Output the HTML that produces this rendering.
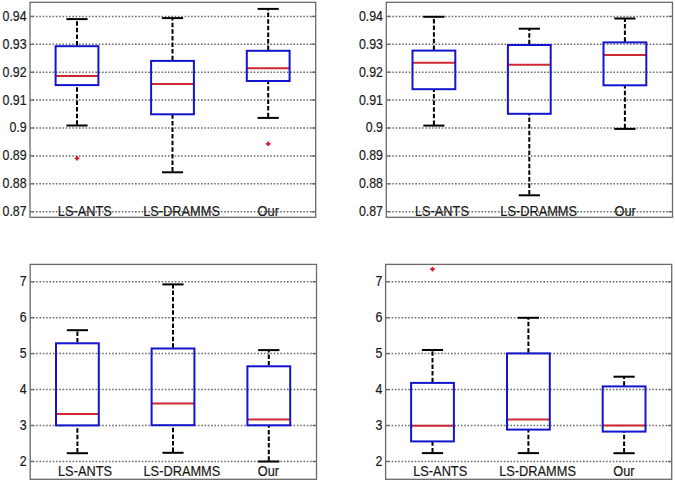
<!DOCTYPE html>
<html><head><meta charset="utf-8"><style>
html,body{margin:0;padding:0;background:#fff;}
svg{display:block;}
</style></head><body>
<svg width="675" height="482" viewBox="0 0 675 482" font-family="'Liberation Sans', sans-serif" font-size="14.0" fill="#1a1a1a">
<rect width="675" height="482" fill="#fff"/>
<line x1="30.00" y1="16.40" x2="315.70" y2="16.40" stroke="#6e6e6e" stroke-width="1.5" stroke-dasharray="1.6 1.70" stroke-dashoffset="0.6"/>
<line x1="30.00" y1="16.40" x2="34.00" y2="16.40" stroke="#6a6a6a" stroke-width="1.3"/>
<line x1="311.70" y1="16.40" x2="315.70" y2="16.40" stroke="#6a6a6a" stroke-width="1.3"/>
<line x1="30.00" y1="44.30" x2="315.70" y2="44.30" stroke="#6e6e6e" stroke-width="1.5" stroke-dasharray="1.6 1.70" stroke-dashoffset="0.6"/>
<line x1="30.00" y1="44.30" x2="34.00" y2="44.30" stroke="#6a6a6a" stroke-width="1.3"/>
<line x1="311.70" y1="44.30" x2="315.70" y2="44.30" stroke="#6a6a6a" stroke-width="1.3"/>
<line x1="30.00" y1="72.20" x2="315.70" y2="72.20" stroke="#6e6e6e" stroke-width="1.5" stroke-dasharray="1.6 1.70" stroke-dashoffset="0.6"/>
<line x1="30.00" y1="72.20" x2="34.00" y2="72.20" stroke="#6a6a6a" stroke-width="1.3"/>
<line x1="311.70" y1="72.20" x2="315.70" y2="72.20" stroke="#6a6a6a" stroke-width="1.3"/>
<line x1="30.00" y1="100.10" x2="315.70" y2="100.10" stroke="#6e6e6e" stroke-width="1.5" stroke-dasharray="1.6 1.70" stroke-dashoffset="0.6"/>
<line x1="30.00" y1="100.10" x2="34.00" y2="100.10" stroke="#6a6a6a" stroke-width="1.3"/>
<line x1="311.70" y1="100.10" x2="315.70" y2="100.10" stroke="#6a6a6a" stroke-width="1.3"/>
<line x1="30.00" y1="128.00" x2="315.70" y2="128.00" stroke="#6e6e6e" stroke-width="1.5" stroke-dasharray="1.6 1.70" stroke-dashoffset="0.6"/>
<line x1="30.00" y1="128.00" x2="34.00" y2="128.00" stroke="#6a6a6a" stroke-width="1.3"/>
<line x1="311.70" y1="128.00" x2="315.70" y2="128.00" stroke="#6a6a6a" stroke-width="1.3"/>
<line x1="30.00" y1="155.90" x2="315.70" y2="155.90" stroke="#6e6e6e" stroke-width="1.5" stroke-dasharray="1.6 1.70" stroke-dashoffset="0.6"/>
<line x1="30.00" y1="155.90" x2="34.00" y2="155.90" stroke="#6a6a6a" stroke-width="1.3"/>
<line x1="311.70" y1="155.90" x2="315.70" y2="155.90" stroke="#6a6a6a" stroke-width="1.3"/>
<line x1="30.00" y1="183.80" x2="315.70" y2="183.80" stroke="#6e6e6e" stroke-width="1.5" stroke-dasharray="1.6 1.70" stroke-dashoffset="0.6"/>
<line x1="30.00" y1="183.80" x2="34.00" y2="183.80" stroke="#6a6a6a" stroke-width="1.3"/>
<line x1="311.70" y1="183.80" x2="315.70" y2="183.80" stroke="#6a6a6a" stroke-width="1.3"/>
<line x1="30.00" y1="211.70" x2="315.70" y2="211.70" stroke="#6e6e6e" stroke-width="1.5" stroke-dasharray="1.6 1.70" stroke-dashoffset="0.6"/>
<line x1="30.00" y1="211.70" x2="34.00" y2="211.70" stroke="#6a6a6a" stroke-width="1.3"/>
<line x1="311.70" y1="211.70" x2="315.70" y2="211.70" stroke="#6a6a6a" stroke-width="1.3"/>
<text transform="translate(26.60,20.80) scale(0.885,1)" text-anchor="end" stroke="#1a1a1a" stroke-width="0.2">0.94</text>
<text transform="translate(26.60,48.70) scale(0.885,1)" text-anchor="end" stroke="#1a1a1a" stroke-width="0.2">0.93</text>
<text transform="translate(26.60,76.60) scale(0.885,1)" text-anchor="end" stroke="#1a1a1a" stroke-width="0.2">0.92</text>
<text transform="translate(26.60,104.50) scale(0.885,1)" text-anchor="end" stroke="#1a1a1a" stroke-width="0.2">0.91</text>
<text transform="translate(26.60,132.40) scale(0.885,1)" text-anchor="end" stroke="#1a1a1a" stroke-width="0.2">0.9</text>
<text transform="translate(26.60,160.30) scale(0.885,1)" text-anchor="end" stroke="#1a1a1a" stroke-width="0.2">0.89</text>
<text transform="translate(26.60,188.20) scale(0.885,1)" text-anchor="end" stroke="#1a1a1a" stroke-width="0.2">0.88</text>
<text transform="translate(26.60,216.10) scale(0.885,1)" text-anchor="end" stroke="#1a1a1a" stroke-width="0.2">0.87</text>
<text transform="translate(57.80,215.60) scale(0.914,1)" stroke="#1a1a1a" stroke-width="0.2">LS-ANTS</text>
<text transform="translate(143.20,215.60) scale(0.914,1)" stroke="#1a1a1a" stroke-width="0.2">LS-DRAMMS</text>
<text transform="translate(257.60,215.60) scale(0.914,1)" stroke="#1a1a1a" stroke-width="0.2">Our</text>
<line x1="77.00" y1="46.20" x2="77.00" y2="19.10" stroke="#000" stroke-width="2" stroke-dasharray="4.5 2.10" stroke-dashoffset="-0.7"/>
<line x1="77.00" y1="125.50" x2="77.00" y2="85.10" stroke="#000" stroke-width="2" stroke-dasharray="4.5 2.10" stroke-dashoffset="-0.7"/>
<line x1="66.40" y1="19.10" x2="87.60" y2="19.10" stroke="#000" stroke-width="2"/>
<line x1="66.40" y1="125.50" x2="87.60" y2="125.50" stroke="#000" stroke-width="2"/>
<line x1="55.60" y1="76.00" x2="98.40" y2="76.00" stroke="#cf2832" stroke-width="2"/>
<rect x="55.60" y="46.20" width="42.80" height="38.90" fill="none" stroke="#1414cc" stroke-width="2"/>
<path d="M74.70 158.30H79.30M77.00 156.00V160.60" stroke="#e01428" stroke-width="1.8"/>
<line x1="172.50" y1="60.90" x2="172.50" y2="18.10" stroke="#000" stroke-width="2" stroke-dasharray="4.5 2.10" stroke-dashoffset="-0.7"/>
<line x1="172.50" y1="172.30" x2="172.50" y2="114.30" stroke="#000" stroke-width="2" stroke-dasharray="4.5 2.10" stroke-dashoffset="-0.7"/>
<line x1="161.90" y1="18.10" x2="183.10" y2="18.10" stroke="#000" stroke-width="2"/>
<line x1="161.90" y1="172.30" x2="183.10" y2="172.30" stroke="#000" stroke-width="2"/>
<line x1="151.10" y1="84.00" x2="193.90" y2="84.00" stroke="#cf2832" stroke-width="2"/>
<rect x="151.10" y="60.90" width="42.80" height="53.40" fill="none" stroke="#1414cc" stroke-width="2"/>
<line x1="268.20" y1="50.80" x2="268.20" y2="8.90" stroke="#000" stroke-width="2" stroke-dasharray="4.5 2.10" stroke-dashoffset="-0.7"/>
<line x1="268.20" y1="117.90" x2="268.20" y2="81.00" stroke="#000" stroke-width="2" stroke-dasharray="4.5 2.10" stroke-dashoffset="-0.7"/>
<line x1="257.60" y1="8.90" x2="278.80" y2="8.90" stroke="#000" stroke-width="2"/>
<line x1="257.60" y1="117.90" x2="278.80" y2="117.90" stroke="#000" stroke-width="2"/>
<line x1="246.80" y1="68.20" x2="289.60" y2="68.20" stroke="#cf2832" stroke-width="2"/>
<rect x="246.80" y="50.80" width="42.80" height="30.20" fill="none" stroke="#1414cc" stroke-width="2"/>
<path d="M265.90 143.80H270.50M268.20 141.50V146.10" stroke="#e01428" stroke-width="1.8"/>
<rect x="30.00" y="2.30" width="285.70" height="215.00" fill="none" stroke="#6a6a6a" stroke-width="1.3"/>
<line x1="386.30" y1="16.40" x2="672.50" y2="16.40" stroke="#6e6e6e" stroke-width="1.5" stroke-dasharray="1.6 1.70" stroke-dashoffset="0.6"/>
<line x1="386.30" y1="16.40" x2="390.30" y2="16.40" stroke="#6a6a6a" stroke-width="1.3"/>
<line x1="668.50" y1="16.40" x2="672.50" y2="16.40" stroke="#6a6a6a" stroke-width="1.3"/>
<line x1="386.30" y1="44.30" x2="672.50" y2="44.30" stroke="#6e6e6e" stroke-width="1.5" stroke-dasharray="1.6 1.70" stroke-dashoffset="0.6"/>
<line x1="386.30" y1="44.30" x2="390.30" y2="44.30" stroke="#6a6a6a" stroke-width="1.3"/>
<line x1="668.50" y1="44.30" x2="672.50" y2="44.30" stroke="#6a6a6a" stroke-width="1.3"/>
<line x1="386.30" y1="72.20" x2="672.50" y2="72.20" stroke="#6e6e6e" stroke-width="1.5" stroke-dasharray="1.6 1.70" stroke-dashoffset="0.6"/>
<line x1="386.30" y1="72.20" x2="390.30" y2="72.20" stroke="#6a6a6a" stroke-width="1.3"/>
<line x1="668.50" y1="72.20" x2="672.50" y2="72.20" stroke="#6a6a6a" stroke-width="1.3"/>
<line x1="386.30" y1="100.10" x2="672.50" y2="100.10" stroke="#6e6e6e" stroke-width="1.5" stroke-dasharray="1.6 1.70" stroke-dashoffset="0.6"/>
<line x1="386.30" y1="100.10" x2="390.30" y2="100.10" stroke="#6a6a6a" stroke-width="1.3"/>
<line x1="668.50" y1="100.10" x2="672.50" y2="100.10" stroke="#6a6a6a" stroke-width="1.3"/>
<line x1="386.30" y1="128.00" x2="672.50" y2="128.00" stroke="#6e6e6e" stroke-width="1.5" stroke-dasharray="1.6 1.70" stroke-dashoffset="0.6"/>
<line x1="386.30" y1="128.00" x2="390.30" y2="128.00" stroke="#6a6a6a" stroke-width="1.3"/>
<line x1="668.50" y1="128.00" x2="672.50" y2="128.00" stroke="#6a6a6a" stroke-width="1.3"/>
<line x1="386.30" y1="155.90" x2="672.50" y2="155.90" stroke="#6e6e6e" stroke-width="1.5" stroke-dasharray="1.6 1.70" stroke-dashoffset="0.6"/>
<line x1="386.30" y1="155.90" x2="390.30" y2="155.90" stroke="#6a6a6a" stroke-width="1.3"/>
<line x1="668.50" y1="155.90" x2="672.50" y2="155.90" stroke="#6a6a6a" stroke-width="1.3"/>
<line x1="386.30" y1="183.80" x2="672.50" y2="183.80" stroke="#6e6e6e" stroke-width="1.5" stroke-dasharray="1.6 1.70" stroke-dashoffset="0.6"/>
<line x1="386.30" y1="183.80" x2="390.30" y2="183.80" stroke="#6a6a6a" stroke-width="1.3"/>
<line x1="668.50" y1="183.80" x2="672.50" y2="183.80" stroke="#6a6a6a" stroke-width="1.3"/>
<line x1="386.30" y1="211.70" x2="672.50" y2="211.70" stroke="#6e6e6e" stroke-width="1.5" stroke-dasharray="1.6 1.70" stroke-dashoffset="0.6"/>
<line x1="386.30" y1="211.70" x2="390.30" y2="211.70" stroke="#6a6a6a" stroke-width="1.3"/>
<line x1="668.50" y1="211.70" x2="672.50" y2="211.70" stroke="#6a6a6a" stroke-width="1.3"/>
<text transform="translate(383.00,20.80) scale(0.885,1)" text-anchor="end" stroke="#1a1a1a" stroke-width="0.2">0.94</text>
<text transform="translate(383.00,48.70) scale(0.885,1)" text-anchor="end" stroke="#1a1a1a" stroke-width="0.2">0.93</text>
<text transform="translate(383.00,76.60) scale(0.885,1)" text-anchor="end" stroke="#1a1a1a" stroke-width="0.2">0.92</text>
<text transform="translate(383.00,104.50) scale(0.885,1)" text-anchor="end" stroke="#1a1a1a" stroke-width="0.2">0.91</text>
<text transform="translate(383.00,132.40) scale(0.885,1)" text-anchor="end" stroke="#1a1a1a" stroke-width="0.2">0.9</text>
<text transform="translate(383.00,160.30) scale(0.885,1)" text-anchor="end" stroke="#1a1a1a" stroke-width="0.2">0.89</text>
<text transform="translate(383.00,188.20) scale(0.885,1)" text-anchor="end" stroke="#1a1a1a" stroke-width="0.2">0.88</text>
<text transform="translate(383.00,216.10) scale(0.885,1)" text-anchor="end" stroke="#1a1a1a" stroke-width="0.2">0.87</text>
<text transform="translate(414.90,215.60) scale(0.914,1)" stroke="#1a1a1a" stroke-width="0.2">LS-ANTS</text>
<text transform="translate(500.30,215.60) scale(0.914,1)" stroke="#1a1a1a" stroke-width="0.2">LS-DRAMMS</text>
<text transform="translate(614.50,215.60) scale(0.914,1)" stroke="#1a1a1a" stroke-width="0.2">Our</text>
<line x1="433.90" y1="50.60" x2="433.90" y2="16.80" stroke="#000" stroke-width="2" stroke-dasharray="4.5 2.10" stroke-dashoffset="-0.7"/>
<line x1="433.90" y1="125.60" x2="433.90" y2="89.20" stroke="#000" stroke-width="2" stroke-dasharray="4.5 2.10" stroke-dashoffset="-0.7"/>
<line x1="423.30" y1="16.80" x2="444.50" y2="16.80" stroke="#000" stroke-width="2"/>
<line x1="423.30" y1="125.60" x2="444.50" y2="125.60" stroke="#000" stroke-width="2"/>
<line x1="412.50" y1="62.80" x2="455.30" y2="62.80" stroke="#cf2832" stroke-width="2"/>
<rect x="412.50" y="50.60" width="42.80" height="38.60" fill="none" stroke="#1414cc" stroke-width="2"/>
<line x1="529.30" y1="45.00" x2="529.30" y2="28.70" stroke="#000" stroke-width="2" stroke-dasharray="4.5 2.10" stroke-dashoffset="-0.7"/>
<line x1="529.30" y1="195.30" x2="529.30" y2="113.80" stroke="#000" stroke-width="2" stroke-dasharray="4.5 2.10" stroke-dashoffset="-0.7"/>
<line x1="518.70" y1="28.70" x2="539.90" y2="28.70" stroke="#000" stroke-width="2"/>
<line x1="518.70" y1="195.30" x2="539.90" y2="195.30" stroke="#000" stroke-width="2"/>
<line x1="507.90" y1="64.80" x2="550.70" y2="64.80" stroke="#cf2832" stroke-width="2"/>
<rect x="507.90" y="45.00" width="42.80" height="68.80" fill="none" stroke="#1414cc" stroke-width="2"/>
<line x1="624.90" y1="42.40" x2="624.90" y2="18.50" stroke="#000" stroke-width="2" stroke-dasharray="4.5 2.10" stroke-dashoffset="-0.7"/>
<line x1="624.90" y1="128.90" x2="624.90" y2="85.30" stroke="#000" stroke-width="2" stroke-dasharray="4.5 2.10" stroke-dashoffset="-0.7"/>
<line x1="614.30" y1="18.50" x2="635.50" y2="18.50" stroke="#000" stroke-width="2"/>
<line x1="614.30" y1="128.90" x2="635.50" y2="128.90" stroke="#000" stroke-width="2"/>
<line x1="603.50" y1="54.90" x2="646.30" y2="54.90" stroke="#cf2832" stroke-width="2"/>
<rect x="603.50" y="42.40" width="42.80" height="42.90" fill="none" stroke="#1414cc" stroke-width="2"/>
<rect x="386.30" y="2.30" width="286.20" height="215.00" fill="none" stroke="#6a6a6a" stroke-width="1.3"/>
<line x1="30.20" y1="281.80" x2="316.50" y2="281.80" stroke="#6e6e6e" stroke-width="1.5" stroke-dasharray="1.6 1.70" stroke-dashoffset="0.6"/>
<line x1="30.20" y1="281.80" x2="34.20" y2="281.80" stroke="#6a6a6a" stroke-width="1.3"/>
<line x1="312.50" y1="281.80" x2="316.50" y2="281.80" stroke="#6a6a6a" stroke-width="1.3"/>
<line x1="30.20" y1="317.70" x2="316.50" y2="317.70" stroke="#6e6e6e" stroke-width="1.5" stroke-dasharray="1.6 1.70" stroke-dashoffset="0.6"/>
<line x1="30.20" y1="317.70" x2="34.20" y2="317.70" stroke="#6a6a6a" stroke-width="1.3"/>
<line x1="312.50" y1="317.70" x2="316.50" y2="317.70" stroke="#6a6a6a" stroke-width="1.3"/>
<line x1="30.20" y1="353.60" x2="316.50" y2="353.60" stroke="#6e6e6e" stroke-width="1.5" stroke-dasharray="1.6 1.70" stroke-dashoffset="0.6"/>
<line x1="30.20" y1="353.60" x2="34.20" y2="353.60" stroke="#6a6a6a" stroke-width="1.3"/>
<line x1="312.50" y1="353.60" x2="316.50" y2="353.60" stroke="#6a6a6a" stroke-width="1.3"/>
<line x1="30.20" y1="389.60" x2="316.50" y2="389.60" stroke="#6e6e6e" stroke-width="1.5" stroke-dasharray="1.6 1.70" stroke-dashoffset="0.6"/>
<line x1="30.20" y1="389.60" x2="34.20" y2="389.60" stroke="#6a6a6a" stroke-width="1.3"/>
<line x1="312.50" y1="389.60" x2="316.50" y2="389.60" stroke="#6a6a6a" stroke-width="1.3"/>
<line x1="30.20" y1="425.50" x2="316.50" y2="425.50" stroke="#6e6e6e" stroke-width="1.5" stroke-dasharray="1.6 1.70" stroke-dashoffset="0.6"/>
<line x1="30.20" y1="425.50" x2="34.20" y2="425.50" stroke="#6a6a6a" stroke-width="1.3"/>
<line x1="312.50" y1="425.50" x2="316.50" y2="425.50" stroke="#6a6a6a" stroke-width="1.3"/>
<line x1="30.20" y1="461.50" x2="316.50" y2="461.50" stroke="#6e6e6e" stroke-width="1.5" stroke-dasharray="1.6 1.70" stroke-dashoffset="0.6"/>
<line x1="30.20" y1="461.50" x2="34.20" y2="461.50" stroke="#6a6a6a" stroke-width="1.3"/>
<line x1="312.50" y1="461.50" x2="316.50" y2="461.50" stroke="#6a6a6a" stroke-width="1.3"/>
<text transform="translate(26.60,286.20) scale(0.885,1)" text-anchor="end" stroke="#1a1a1a" stroke-width="0.2">7</text>
<text transform="translate(26.60,322.10) scale(0.885,1)" text-anchor="end" stroke="#1a1a1a" stroke-width="0.2">6</text>
<text transform="translate(26.60,358.00) scale(0.885,1)" text-anchor="end" stroke="#1a1a1a" stroke-width="0.2">5</text>
<text transform="translate(26.60,394.00) scale(0.885,1)" text-anchor="end" stroke="#1a1a1a" stroke-width="0.2">4</text>
<text transform="translate(26.60,429.90) scale(0.885,1)" text-anchor="end" stroke="#1a1a1a" stroke-width="0.2">3</text>
<text transform="translate(26.60,465.90) scale(0.885,1)" text-anchor="end" stroke="#1a1a1a" stroke-width="0.2">2</text>
<text transform="translate(58.00,476.00) scale(0.914,1)" stroke="#1a1a1a" stroke-width="0.2">LS-ANTS</text>
<text transform="translate(143.50,476.00) scale(0.914,1)" stroke="#1a1a1a" stroke-width="0.2">LS-DRAMMS</text>
<text transform="translate(257.80,476.00) scale(0.914,1)" stroke="#1a1a1a" stroke-width="0.2">Our</text>
<line x1="77.40" y1="343.30" x2="77.40" y2="330.20" stroke="#000" stroke-width="2" stroke-dasharray="4.5 2.10" stroke-dashoffset="-0.7"/>
<line x1="77.40" y1="453.20" x2="77.40" y2="425.40" stroke="#000" stroke-width="2" stroke-dasharray="4.5 2.10" stroke-dashoffset="-0.7"/>
<line x1="66.80" y1="330.20" x2="88.00" y2="330.20" stroke="#000" stroke-width="2"/>
<line x1="66.80" y1="453.20" x2="88.00" y2="453.20" stroke="#000" stroke-width="2"/>
<line x1="56.00" y1="414.10" x2="98.80" y2="414.10" stroke="#cf2832" stroke-width="2"/>
<rect x="56.00" y="343.30" width="42.80" height="82.10" fill="none" stroke="#1414cc" stroke-width="2"/>
<line x1="173.00" y1="348.50" x2="173.00" y2="284.40" stroke="#000" stroke-width="2" stroke-dasharray="4.5 2.10" stroke-dashoffset="-0.7"/>
<line x1="173.00" y1="452.80" x2="173.00" y2="425.20" stroke="#000" stroke-width="2" stroke-dasharray="4.5 2.10" stroke-dashoffset="-0.7"/>
<line x1="162.40" y1="284.40" x2="183.60" y2="284.40" stroke="#000" stroke-width="2"/>
<line x1="162.40" y1="452.80" x2="183.60" y2="452.80" stroke="#000" stroke-width="2"/>
<line x1="151.60" y1="403.40" x2="194.40" y2="403.40" stroke="#cf2832" stroke-width="2"/>
<rect x="151.60" y="348.50" width="42.80" height="76.70" fill="none" stroke="#1414cc" stroke-width="2"/>
<line x1="268.80" y1="366.30" x2="268.80" y2="350.10" stroke="#000" stroke-width="2" stroke-dasharray="4.5 2.10" stroke-dashoffset="-0.7"/>
<line x1="268.80" y1="461.50" x2="268.80" y2="425.30" stroke="#000" stroke-width="2" stroke-dasharray="4.5 2.10" stroke-dashoffset="-0.7"/>
<line x1="258.20" y1="350.10" x2="279.40" y2="350.10" stroke="#000" stroke-width="2"/>
<line x1="258.20" y1="461.50" x2="279.40" y2="461.50" stroke="#000" stroke-width="2"/>
<line x1="247.40" y1="419.40" x2="290.20" y2="419.40" stroke="#cf2832" stroke-width="2"/>
<rect x="247.40" y="366.30" width="42.80" height="59.00" fill="none" stroke="#1414cc" stroke-width="2"/>
<rect x="30.20" y="264.40" width="286.30" height="214.90" fill="none" stroke="#6a6a6a" stroke-width="1.3"/>
<line x1="385.60" y1="281.80" x2="671.70" y2="281.80" stroke="#6e6e6e" stroke-width="1.5" stroke-dasharray="1.6 1.70" stroke-dashoffset="0.6"/>
<line x1="385.60" y1="281.80" x2="389.60" y2="281.80" stroke="#6a6a6a" stroke-width="1.3"/>
<line x1="667.70" y1="281.80" x2="671.70" y2="281.80" stroke="#6a6a6a" stroke-width="1.3"/>
<line x1="385.60" y1="317.70" x2="671.70" y2="317.70" stroke="#6e6e6e" stroke-width="1.5" stroke-dasharray="1.6 1.70" stroke-dashoffset="0.6"/>
<line x1="385.60" y1="317.70" x2="389.60" y2="317.70" stroke="#6a6a6a" stroke-width="1.3"/>
<line x1="667.70" y1="317.70" x2="671.70" y2="317.70" stroke="#6a6a6a" stroke-width="1.3"/>
<line x1="385.60" y1="353.60" x2="671.70" y2="353.60" stroke="#6e6e6e" stroke-width="1.5" stroke-dasharray="1.6 1.70" stroke-dashoffset="0.6"/>
<line x1="385.60" y1="353.60" x2="389.60" y2="353.60" stroke="#6a6a6a" stroke-width="1.3"/>
<line x1="667.70" y1="353.60" x2="671.70" y2="353.60" stroke="#6a6a6a" stroke-width="1.3"/>
<line x1="385.60" y1="389.60" x2="671.70" y2="389.60" stroke="#6e6e6e" stroke-width="1.5" stroke-dasharray="1.6 1.70" stroke-dashoffset="0.6"/>
<line x1="385.60" y1="389.60" x2="389.60" y2="389.60" stroke="#6a6a6a" stroke-width="1.3"/>
<line x1="667.70" y1="389.60" x2="671.70" y2="389.60" stroke="#6a6a6a" stroke-width="1.3"/>
<line x1="385.60" y1="425.50" x2="671.70" y2="425.50" stroke="#6e6e6e" stroke-width="1.5" stroke-dasharray="1.6 1.70" stroke-dashoffset="0.6"/>
<line x1="385.60" y1="425.50" x2="389.60" y2="425.50" stroke="#6a6a6a" stroke-width="1.3"/>
<line x1="667.70" y1="425.50" x2="671.70" y2="425.50" stroke="#6a6a6a" stroke-width="1.3"/>
<line x1="385.60" y1="461.50" x2="671.70" y2="461.50" stroke="#6e6e6e" stroke-width="1.5" stroke-dasharray="1.6 1.70" stroke-dashoffset="0.6"/>
<line x1="385.60" y1="461.50" x2="389.60" y2="461.50" stroke="#6a6a6a" stroke-width="1.3"/>
<line x1="667.70" y1="461.50" x2="671.70" y2="461.50" stroke="#6a6a6a" stroke-width="1.3"/>
<text transform="translate(382.50,286.20) scale(0.885,1)" text-anchor="end" stroke="#1a1a1a" stroke-width="0.2">7</text>
<text transform="translate(382.50,322.10) scale(0.885,1)" text-anchor="end" stroke="#1a1a1a" stroke-width="0.2">6</text>
<text transform="translate(382.50,358.00) scale(0.885,1)" text-anchor="end" stroke="#1a1a1a" stroke-width="0.2">5</text>
<text transform="translate(382.50,394.00) scale(0.885,1)" text-anchor="end" stroke="#1a1a1a" stroke-width="0.2">4</text>
<text transform="translate(382.50,429.90) scale(0.885,1)" text-anchor="end" stroke="#1a1a1a" stroke-width="0.2">3</text>
<text transform="translate(382.50,465.90) scale(0.885,1)" text-anchor="end" stroke="#1a1a1a" stroke-width="0.2">2</text>
<text transform="translate(413.20,476.00) scale(0.914,1)" stroke="#1a1a1a" stroke-width="0.2">LS-ANTS</text>
<text transform="translate(499.20,476.00) scale(0.914,1)" stroke="#1a1a1a" stroke-width="0.2">LS-DRAMMS</text>
<text transform="translate(613.20,476.00) scale(0.914,1)" stroke="#1a1a1a" stroke-width="0.2">Our</text>
<line x1="432.50" y1="382.90" x2="432.50" y2="350.00" stroke="#000" stroke-width="2" stroke-dasharray="4.5 2.10" stroke-dashoffset="-0.7"/>
<line x1="432.50" y1="453.10" x2="432.50" y2="441.40" stroke="#000" stroke-width="2" stroke-dasharray="4.5 2.10" stroke-dashoffset="-0.7"/>
<line x1="421.90" y1="350.00" x2="443.10" y2="350.00" stroke="#000" stroke-width="2"/>
<line x1="421.90" y1="453.10" x2="443.10" y2="453.10" stroke="#000" stroke-width="2"/>
<line x1="411.10" y1="425.70" x2="453.90" y2="425.70" stroke="#cf2832" stroke-width="2"/>
<rect x="411.10" y="382.90" width="42.80" height="58.50" fill="none" stroke="#1414cc" stroke-width="2"/>
<path d="M430.20 269.20H434.80M432.50 266.90V271.50" stroke="#e01428" stroke-width="1.8"/>
<line x1="528.40" y1="353.40" x2="528.40" y2="317.80" stroke="#000" stroke-width="2" stroke-dasharray="4.5 2.10" stroke-dashoffset="-0.7"/>
<line x1="528.40" y1="453.10" x2="528.40" y2="429.60" stroke="#000" stroke-width="2" stroke-dasharray="4.5 2.10" stroke-dashoffset="-0.7"/>
<line x1="517.80" y1="317.80" x2="539.00" y2="317.80" stroke="#000" stroke-width="2"/>
<line x1="517.80" y1="453.10" x2="539.00" y2="453.10" stroke="#000" stroke-width="2"/>
<line x1="507.00" y1="419.40" x2="549.80" y2="419.40" stroke="#cf2832" stroke-width="2"/>
<rect x="507.00" y="353.40" width="42.80" height="76.20" fill="none" stroke="#1414cc" stroke-width="2"/>
<line x1="624.10" y1="386.40" x2="624.10" y2="376.70" stroke="#000" stroke-width="2" stroke-dasharray="4.5 2.10" stroke-dashoffset="-0.7"/>
<line x1="624.10" y1="453.20" x2="624.10" y2="431.60" stroke="#000" stroke-width="2" stroke-dasharray="4.5 2.10" stroke-dashoffset="-0.7"/>
<line x1="613.50" y1="376.70" x2="634.70" y2="376.70" stroke="#000" stroke-width="2"/>
<line x1="613.50" y1="453.20" x2="634.70" y2="453.20" stroke="#000" stroke-width="2"/>
<line x1="602.70" y1="425.60" x2="645.50" y2="425.60" stroke="#cf2832" stroke-width="2"/>
<rect x="602.70" y="386.40" width="42.80" height="45.20" fill="none" stroke="#1414cc" stroke-width="2"/>
<rect x="385.60" y="264.40" width="286.10" height="214.90" fill="none" stroke="#6a6a6a" stroke-width="1.3"/>
</svg>
</body></html>
